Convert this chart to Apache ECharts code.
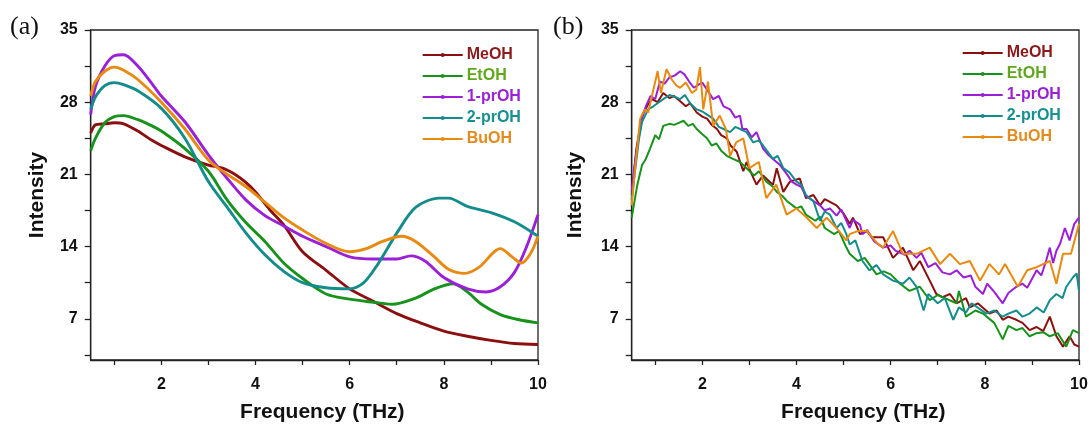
<!DOCTYPE html>
<html><head><meta charset="utf-8">
<script src="https://cdn.jsdelivr.net/npm/echarts@6/dist/echarts.min.js"></script>
<style>html,body{margin:0;padding:0;background:#fff}#c{width:1091px;height:428px}</style>
</head><body><div id="c"></div>
<script>
// ---------- categories / ticks ----------
const seriesNames = ['MeOH', 'EtOH', '1-prOH', '2-prOH', 'BuOH'];
const xLabelVals = [2, 4, 6, 8, 10];
const xTickVals = [1, 2, 3, 4, 5, 6, 7, 8, 9, 10];
const yLabelVals = [7, 14, 21, 28, 35];
const yTickVals = [3.5, 7, 10.5, 14, 17.5, 21, 24.5, 28, 31.5, 35];

// ---------- panel (a) data: [frequency THz, intensity] ----------
const aMeOH = [[0.5,25.0],[0.6,25.8],[0.8,25.9],[1.0,26.0],[1.2,25.9],[1.5,25.2],[1.8,24.3],[2.0,23.8],[2.5,22.7],[3.0,21.9],[3.3,21.6],[3.6,20.9],[3.8,20.2],[4.0,19.3],[4.3,17.6],[4.6,16.1],[5.0,13.5],[5.5,11.7],[6.0,9.9],[6.5,8.7],[7.0,7.5],[7.5,6.6],[8.0,5.8],[8.5,5.3],[9.0,4.9],[9.5,4.6],[10.0,4.5]];
const aEtOH = [[0.5,23.3],[0.6,24.5],[0.8,26.0],[1.0,26.6],[1.2,26.7],[1.5,26.3],[1.8,25.7],[2.0,25.2],[2.5,23.5],[3.0,21.3],[3.4,18.5],[3.8,16.3],[4.2,14.5],[4.6,12.4],[5.0,10.9],[5.5,9.4],[6.0,8.9],[6.5,8.6],[6.9,8.4],[7.4,9.0],[7.8,9.9],[8.2,10.4],[8.5,9.6],[8.8,8.4],[9.2,7.4],[9.6,6.9],[10.0,6.6]];
const a1prOH = [[0.5,26.8],[0.6,29.5],[0.8,31.5],[1.0,32.5],[1.2,32.6],[1.5,31.5],[1.8,29.8],[2.0,28.6],[2.5,26.1],[3.0,22.9],[3.4,20.6],[3.8,18.5],[4.2,17.0],[4.6,16.0],[5.0,15.0],[5.5,14.0],[6.0,13.0],[6.5,12.8],[7.0,12.8],[7.3,13.1],[7.6,12.6],[8.0,11.0],[8.5,9.9],[8.9,9.6],[9.2,10.1],[9.5,11.5],[9.75,13.9],[10.0,17.1]];
const a2prOH = [[0.5,27.3],[0.6,28.5],[0.8,29.6],[1.0,29.9],[1.2,29.7],[1.5,29.1],[2.0,27.4],[2.5,24.5],[3.0,20.3],[3.4,17.8],[3.8,15.3],[4.2,13.2],[4.6,11.6],[5.0,10.5],[5.5,10.0],[6.0,9.9],[6.3,10.5],[6.6,12.3],[7.0,15.3],[7.4,17.8],[7.9,18.7],[8.1,18.7],[8.5,17.9],[9.0,17.3],[9.5,16.4],[10.0,15.0]];
const aBuOH = [[0.5,28.6],[0.6,30.0],[0.8,31.0],[1.0,31.4],[1.2,31.1],[1.5,30.2],[2.0,28.0],[2.5,25.4],[3.0,22.4],[3.4,21.0],[3.8,19.8],[4.2,18.3],[4.6,16.8],[5.0,15.6],[5.5,14.3],[6.0,13.5],[6.35,13.8],[6.7,14.5],[7.1,15.0],[7.4,14.5],[7.8,13.0],[8.1,11.8],[8.45,11.4],[8.75,12.0],[9.2,13.8],[9.45,13.0],[9.65,12.4],[9.85,13.4],[10.0,15.0]];

// ---------- panel (b) data ----------
const bMeOH = [[0.5,19.0],[0.6,23.5],[0.72,26.7],[0.85,27.8],[0.93,28.3],[1.05,28.0],[1.17,28.9],[1.3,28.4],[1.4,28.6],[1.53,28.1],[1.65,27.6],[1.74,27.9],[1.88,27.0],[2.0,26.6],[2.1,26.4],[2.2,25.8],[2.31,25.4],[2.4,24.8],[2.52,24.5],[2.6,23.8],[2.73,23.2],[2.87,21.3],[2.94,22.2],[3.05,21.0],[3.15,20.0],[3.29,20.9],[3.4,20.4],[3.5,20.0],[3.58,21.6],[3.72,19.3],[3.86,20.3],[4.07,20.6],[4.2,18.7],[4.36,19.0],[4.5,18.0],[4.6,18.6],[4.85,18.0],[5.0,17.2],[5.13,16.2],[5.2,16.8],[5.35,15.2],[5.5,15.5],[5.6,14.9],[5.84,14.9],[6.05,12.9],[6.26,13.9],[6.48,11.7],[6.62,12.6],[6.83,10.7],[6.97,9.4],[7.1,9.1],[7.26,9.4],[7.4,8.5],[7.6,9.0],[7.68,8.1],[7.85,8.5],[8.1,7.5],[8.25,7.8],[8.38,6.9],[8.5,7.2],[8.67,6.9],[8.8,6.6],[8.95,5.9],[9.1,6.2],[9.24,5.8],[9.38,7.2],[9.52,5.3],[9.66,4.3],[9.8,5.3],[9.9,4.5],[10.0,4.3]];
const bEtOH = [[0.5,16.8],[0.62,20.0],[0.72,21.9],[0.8,22.5],[0.89,23.5],[1.0,24.8],[1.08,24.4],[1.17,25.7],[1.3,25.9],[1.4,25.8],[1.5,26.0],[1.6,26.2],[1.7,25.7],[1.8,25.9],[1.88,25.4],[2.0,24.9],[2.1,24.5],[2.2,23.8],[2.3,24.0],[2.4,23.3],[2.52,22.8],[2.65,22.5],[2.8,22.2],[2.94,21.6],[3.1,20.9],[3.2,21.3],[3.36,20.3],[3.5,19.8],[3.58,19.3],[3.7,18.9],[3.8,18.4],[4.0,17.7],[4.1,17.9],[4.2,17.1],[4.4,16.5],[4.5,16.9],[4.6,15.8],[4.8,15.2],[4.9,15.5],[5.06,13.9],[5.13,13.3],[5.3,12.6],[5.45,12.9],[5.7,11.3],[5.85,11.6],[6.0,11.3],[6.2,10.4],[6.4,9.7],[6.62,10.1],[6.83,8.8],[7.0,9.3],[7.1,9.1],[7.3,8.7],[7.4,8.5],[7.45,9.7],[7.6,7.2],[7.8,7.8],[7.96,7.5],[8.2,6.6],[8.38,5.0],[8.5,6.3],[8.67,5.9],[8.8,6.1],[8.95,5.3],[9.1,5.6],[9.24,5.7],[9.38,5.3],[9.55,5.6],[9.73,4.3],[9.87,5.9],[10.0,5.6]];
const b1prOH = [[0.5,19.4],[0.57,22.2],[0.64,24.3],[0.72,26.4],[0.8,27.6],[0.9,28.6],[1.0,28.3],[1.1,30.0],[1.2,29.8],[1.3,30.4],[1.42,30.6],[1.53,31.0],[1.62,30.7],[1.72,30.0],[1.82,29.4],[1.92,29.7],[2.0,29.9],[2.1,29.2],[2.23,28.3],[2.35,28.6],[2.45,27.6],[2.59,27.3],[2.7,26.5],[2.8,26.7],[2.85,25.4],[2.94,25.4],[3.05,24.6],[3.15,25.1],[3.29,23.5],[3.4,22.9],[3.5,22.5],[3.65,21.9],[3.8,21.0],[3.9,20.3],[4.0,20.0],[4.1,19.8],[4.2,18.9],[4.36,18.4],[4.5,18.0],[4.6,17.5],[4.71,17.7],[4.85,17.0],[4.95,17.6],[5.06,16.5],[5.13,15.8],[5.2,16.6],[5.35,16.1],[5.4,15.2],[5.5,15.6],[5.65,14.5],[5.84,13.9],[6.0,14.1],[6.1,13.6],[6.3,13.2],[6.4,13.6],[6.55,12.9],[6.65,13.4],[6.8,12.0],[6.95,12.4],[7.1,11.5],[7.26,11.3],[7.4,11.7],[7.55,11.0],[7.7,11.2],[7.8,10.1],[7.96,9.4],[8.05,10.4],[8.2,9.6],[8.38,8.5],[8.5,9.5],[8.67,10.1],[8.8,10.4],[8.9,10.0],[9.1,11.7],[9.2,11.2],[9.3,12.6],[9.38,13.9],[9.45,12.4],[9.52,13.6],[9.6,14.3],[9.7,15.8],[9.8,14.6],[9.9,16.2],[10.0,16.8]];
const b2prOH = [[0.5,18.5],[0.57,21.3],[0.65,24.3],[0.72,26.1],[0.85,27.3],[0.96,27.6],[1.05,27.9],[1.17,28.3],[1.3,28.7],[1.42,28.5],[1.53,28.3],[1.63,28.7],[1.74,27.9],[1.88,27.3],[2.0,27.1],[2.1,26.8],[2.23,26.4],[2.35,25.6],[2.45,25.4],[2.59,25.1],[2.7,25.6],[2.8,25.4],[2.94,25.1],[3.08,24.1],[3.2,24.3],[3.29,23.8],[3.5,22.5],[3.6,22.8],[3.72,21.6],[3.85,21.2],[4.0,20.3],[4.1,20.0],[4.2,19.0],[4.36,18.4],[4.5,16.5],[4.6,17.4],[4.71,17.1],[4.85,15.8],[4.95,16.3],[5.06,15.2],[5.13,14.2],[5.25,14.6],[5.4,12.6],[5.55,11.7],[5.7,12.2],[5.84,11.3],[6.05,10.7],[6.26,10.4],[6.4,11.0],[6.55,10.1],[6.7,7.8],[6.8,9.4],[7.0,8.5],[7.15,9.0],[7.33,6.9],[7.45,8.1],[7.6,7.6],[7.72,8.5],[8.03,7.5],[8.2,7.8],[8.38,7.2],[8.5,7.5],[8.67,7.8],[8.8,7.2],[8.95,7.5],[9.1,8.1],[9.25,7.6],[9.38,8.8],[9.52,9.4],[9.65,9.0],[9.73,10.1],[9.87,11.0],[9.95,11.4],[10.0,9.7]];
const bBuOH = [[0.5,18.0],[0.57,21.5],[0.68,26.4],[0.78,27.3],[0.85,27.0],[0.95,29.0],[1.05,31.0],[1.12,28.9],[1.24,31.2],[1.35,30.2],[1.45,29.6],[1.53,29.4],[1.65,29.9],[1.78,28.9],[1.87,29.2],[1.95,31.4],[2.02,27.3],[2.12,30.0],[2.23,25.7],[2.37,26.7],[2.5,25.4],[2.59,22.8],[2.72,24.1],[2.87,24.5],[3.0,21.6],[3.2,22.2],[3.36,18.7],[3.57,20.0],[3.79,17.1],[4.0,17.7],[4.22,16.8],[4.43,15.8],[4.64,16.8],[4.85,15.8],[5.06,14.6],[5.13,15.2],[5.3,15.5],[5.5,15.5],[5.7,14.4],[5.84,13.9],[6.05,15.5],[6.26,13.3],[6.55,13.3],[6.83,13.9],[7.05,12.3],[7.26,13.3],[7.47,12.3],[7.68,12.6],[7.9,10.7],[8.1,12.3],[8.3,11.3],[8.43,12.3],[8.7,10.1],[8.9,11.7],[9.1,12.0],[9.38,12.6],[9.52,10.4],[9.66,13.3],[9.83,13.3],[10.0,16.2]];

// ---------- styles ----------
const lineColors = ['#8C0F0F', '#17921B', '#9A1FD6', '#148C8C', '#E88A10'];
const legendTextColors = ['#8B1A1A', '#5FA81E', '#9A22D4', '#179090', '#E38B1E'];
const panelA = [aMeOH, aEtOH, a1prOH, a2prOH, aBuOH];
const panelB = [bMeOH, bEtOH, b1prOH, b2prOH, bBuOH];

const FONT = '"Liberation Sans", Arial, sans-serif';
const axisCol = '#222';

function xAx(gi) {
  return {
    type: 'value', gridIndex: gi, min: 0.5, max: 10,
    axisLine: { show: true, onZero: false, lineStyle: { color: axisCol, width: 1.3 } },
    axisTick: { show: true, inside: false, length: 5, customValues: xTickVals, lineStyle: { color: axisCol, width: 1.3 } },
    axisLabel: { customValues: xLabelVals, margin: 17, color: '#111', fontSize: 16, fontWeight: 'bold', fontFamily: FONT },
    splitLine: { show: false },
    name: 'Frequency (THz)', nameLocation: 'middle', nameGap: 42,
    nameTextStyle: { color: '#111', fontSize: 21, fontWeight: 'bold', fontFamily: FONT, padding: [0, 0, 0, 16] }
  };
}
function yAx(gi, gap) {
  return {
    type: 'value', gridIndex: gi, min: 3, max: 35,
    axisLine: { show: true, onZero: false, lineStyle: { color: axisCol, width: 1.3 } },
    axisTick: { show: true, inside: false, length: 6, customValues: yTickVals, lineStyle: { color: axisCol, width: 1.3 } },
    axisLabel: { customValues: yLabelVals, margin: 13, color: '#111', fontSize: 16, fontWeight: 'bold', fontFamily: FONT },
    splitLine: { show: false },
    name: 'Intensity', nameLocation: 'middle', nameGap: gap, nameRotate: 90,
    nameTextStyle: { color: '#111', fontSize: 21, fontWeight: 'bold', fontFamily: FONT }
  };
}
function legendFor(left, top) {
  return {
    orient: 'vertical', left: left, top: top, itemWidth: 40, itemHeight: 5, itemGap: 5,
    padding: 0, selectedMode: false,
    textStyle: { fontSize: 16, fontWeight: 'bold', fontFamily: FONT, lineHeight: 16, padding: [0, 0, 0, -1] },
    data: seriesNames.map((n, i) => ({ name: n, textStyle: { color: legendTextColors[i] } }))
  };
}

const series = [];
[panelA, panelB].forEach((panel, gi) => {
  panel.forEach((d, i) => {
    series.push({
      name: seriesNames[i], type: 'line', xAxisIndex: gi, yAxisIndex: gi,
      data: d, symbol: 'circle', symbolSize: 3, showSymbol: false,
      smooth: gi === 0 ? 0.3 : false,
      lineStyle: { color: lineColors[i], width: gi === 0 ? 2.9 : 2 },
      itemStyle: { color: lineColors[i] },
      emphasis: { disabled: true }, animation: false
    });
  });
});

const chart = echarts.init(document.getElementById('c'), null, { renderer: 'canvas' });
chart.setOption({
  backgroundColor: '#fff',
  animation: false,
  grid: [
    { left: 90.7, top: 30, width: 447.3, height: 334, show: true, borderColor: axisCol, borderWidth: 1.3, containLabel: false },
    { left: 631.7, top: 30, width: 447.3, height: 334, show: true, borderColor: axisCol, borderWidth: 1.3, containLabel: false }
  ],
  xAxis: [xAx(0), xAx(1)],
  yAxis: [yAx(0, 43), yAx(1, 46)],
  legend: [legendFor(421.7, 47), legendFor(961.7, 45)],
  graphic: [
    { type: 'text', left: 10, top: 14, style: { text: '(a)', font: '26px "Liberation Serif", "Times New Roman", serif', fill: '#111' } },
    { type: 'text', left: 553, top: 14, style: { text: '(b)', font: '26px "Liberation Serif", "Times New Roman", serif', fill: '#111' } }
  ],
  series: series
});
</script>
</body></html>
